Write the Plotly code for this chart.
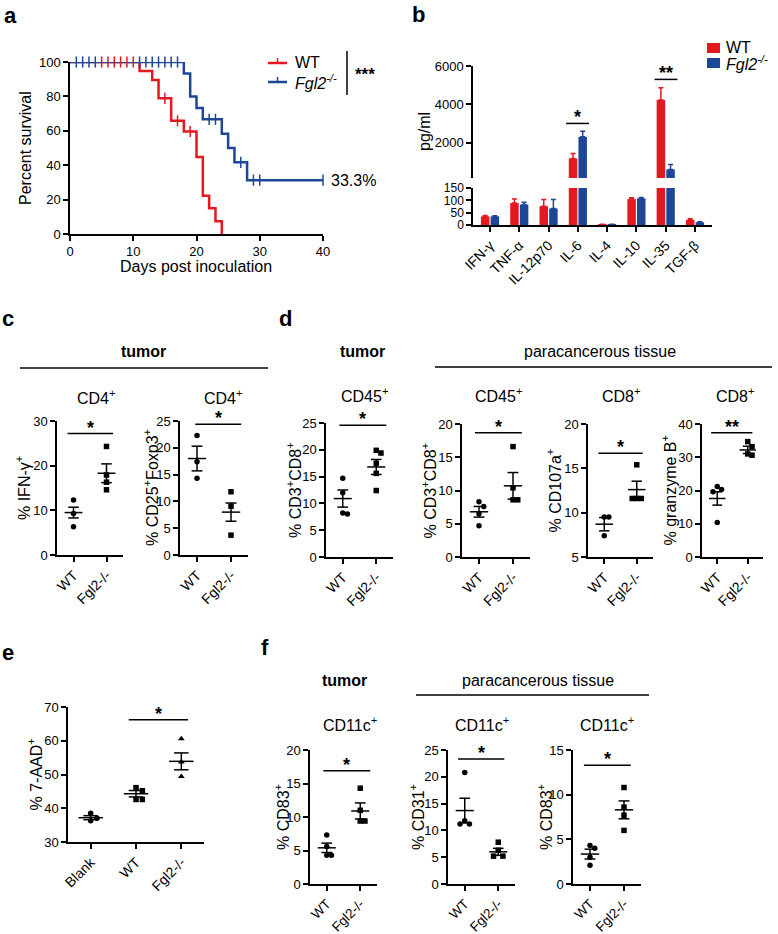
import plotly.graph_objects as go

W, H = 778, 934
RED = '#e3191f'
BLUE = '#1e4696'
FONT = 'Liberation Sans, Arial, sans-serif'

# ---------------- data ----------------
# panel a: Kaplan-Meier survival
a_wt_days = [0, 11, 13, 14, 16, 18, 20, 21, 22, 23, 24]
a_wt_surv = [100, 94.7, 89.5, 78.9, 65.8, 59.6, 44.7, 22.3, 14.9, 7.4, 0]
a_ko_days = [0, 18, 19, 20, 21, 24, 25, 26, 28, 40]
a_ko_surv = [100, 93.3, 80.0, 73.3, 66.7, 58.3, 50.0, 41.7, 31.3, 31.3]
a_wt_censor = [5, 6, 7, 8, 9, 10, 15, 17, 19]
a_ko_censor = [1, 2, 3, 4, 11, 12, 13, 14, 15, 16, 17, 22, 23, 27, 29, 30, 40]
a_ko_final_label = '33.3%'

# panel b: cytokines (pg/ml)
b_cytokines = ['IFN-γ', 'TNF-α', 'IL-12p70', 'IL-6', 'IL-4', 'IL-10', 'IL-35', 'TGF-β']
b_wt = [35, 89, 76, 1170, 2, 105, 4230, 21]
b_wt_err = [4, 16, 27, 260, 1, 5, 640, 4]
b_ko = [35, 83, 67, 2300, 2, 108, 600, 11]
b_ko_err = [2, 9, 36, 290, 1, 3, 260, 2]
b_break = 150

# dot plots: WT / Fgl2-/- individual values, mean, SEM
grp2 = ['WT', 'Fgl2-/-']
c1_wt = [12.3, 9.3, 6.3]
c1_ko = [24.3, 17.9, 16.3, 14.6]
c1_mean = [9.5, 18.3]
c1_sem = [1.2, 2.1]

c2_wt = [22.3, 17.4, 14.3]
c2_ko = [11.8, 9.1, 3.7]
c2_mean = [18.0, 8.0]
c2_sem = [2.3, 1.7]

d1_wt = [14.7, 12.0, 8.2, 8.0]
d1_ko = [19.9, 19.4, 17.5, 15.6, 12.4]
d1_mean = [10.9, 16.8]
d1_sem = [1.6, 1.4]

d2_wt = [8.3, 7.6, 6.5, 4.7]
d2_ko = [16.6, 10.4, 8.6, 8.6]
d2_mean = [6.8, 10.7]
d2_sem = [0.8, 2.0]

d3_wt = [9.5, 9.5, 7.4]
d3_ko = [15.4, 11.6, 11.6, 11.6]
d3_mean = [8.7, 12.6]
d3_sem = [0.75, 0.95]

d4_wt = [21.2, 20.3, 19.6, 10.4]
d4_ko = [34.7, 33.2, 31.0, 30.6]
d4_mean = [17.6, 32.2]
d4_sem = [2.0, 1.1]

e_groups = ['Blank', 'WT', 'Fgl2-/-']
e_blank = [38.5, 37.0, 36.3]
e_wt = [46.1, 45.2, 42.6, 42.6]
e_ko = [60.6, 53.7, 49.4]
e_mean = [37.2, 44.3, 53.9]
e_sem = [0.6, 0.95, 2.5]

f1_wt = [7.3, 5.6, 4.3, 4.3]
f1_ko = [14.3, 11.0, 9.4, 9.4]
f1_mean = [5.4, 10.9]
f1_sem = [0.7, 1.2]

f2_wt = [20.8, 11.8, 11.2, 11.2]
f2_ko = [7.8, 6.3, 5.2, 5.2]
f2_mean = [13.7, 6.0]
f2_sem = [2.3, 0.65]

f3_wt = [4.3, 4.0, 3.0, 2.1]
f3_ko = [10.8, 8.6, 7.7, 6.0]
f3_mean = [3.35, 8.3]
f3_sem = [0.55, 1.0]

# ---------------- figure helpers ----------------
fig = go.Figure()
annotations = []
shapes = []
layout = dict(width=W, height=H, margin=dict(l=0, r=0, t=0, b=0, pad=0, autoexpand=False),
              autosize=False,
              plot_bgcolor='white', paper_bgcolor='white', showlegend=False,
              font=dict(family=FONT, size=13, color='black'),
              barmode='group', bargap=0.34, bargroupgap=0.12)
n_axes = [0]


def px(x):
    return x / W


def py(y):
    return 1 - y / H


def axis_style(size=13):
    return dict(showline=True, linecolor='black', linewidth=1.5, ticks='outside',
                ticklen=5, tickwidth=1.5, tickcolor='black', showgrid=False,
                zeroline=False, tickfont=dict(size=size, family=FONT, color='black'),
                fixedrange=True, automargin=False)


def add_axes(box, xr, yr, xtv=None, xtt=None, ytv=None, xangle=0, showx=True, xsize=13,
             ysize=13):
    n_axes[0] += 1
    n = n_axes[0]
    sfx = '' if n == 1 else str(n)
    x0, x1, y0, y1 = box
    xa = axis_style(xsize)
    xa.update(domain=[px(x0), px(x1)], range=xr, anchor='y' + sfx)
    if xtv is not None:
        xa.update(tickmode='array', tickvals=xtv, ticktext=xtt)
    xa['tickangle'] = xangle
    if not showx:
        xa.update(visible=False)
    ya = axis_style(ysize)
    ya.update(domain=[py(y1), py(y0)], range=yr, anchor='x' + sfx)
    if ytv is not None:
        ya.update(tickmode='array', tickvals=ytv)
    layout['xaxis' + sfx] = xa
    layout['yaxis' + sfx] = ya
    return 'x' + sfx, 'y' + sfx


def text(x, y, s, size=16, bold=False, angle=0, xanchor='center', yanchor='middle'):
    if bold:
        s = '<b>' + s + '</b>'
    annotations.append(dict(x=px(x), y=py(y), xref='paper', yref='paper', text=s,
                            showarrow=False, textangle=angle, xanchor=xanchor,
                            yanchor=yanchor, font=dict(size=size, family=FONT, color='black')))


def hline(x0, x1, y, color='black', width=1.5):
    shapes.append(dict(type='line', xref='paper', yref='paper', x0=px(x0), x1=px(x1),
                       y0=py(y), y1=py(y), line=dict(color=color, width=width)))


def vline(x, y0, y1, color='black', width=1.5):
    shapes.append(dict(type='line', xref='paper', yref='paper', x0=px(x), x1=px(x),
                       y0=py(y0), y1=py(y1), line=dict(color=color, width=width)))


def swarm(vals, tol):
    pattern = [0, 0.14, -0.14, 0.28, -0.28, 0.42, -0.42]
    placed, offs = [], []
    for v in vals:
        used = {o for (pv, o) in placed if abs(pv - v) < tol}
        o = next(p for p in pattern if p not in used)
        placed.append((v, o))
        offs.append(o)
    return offs


def sig(xr, yr, x1, x2, y, stars):
    fig.add_trace(go.Scatter(x=[x1, x2], y=[y, y], mode='lines', xaxis=xr, yaxis=yr,
                             line=dict(color='black', width=1.5), hoverinfo='skip'))
    annotations.append(dict(x=(x1 + x2) / 2, y=y, xref=xr, yref=yr, text='<b>' + stars + '</b>',
                            showarrow=False, yanchor='bottom', yshift=-6,
                            font=dict(size=18, family=FONT, color='black')))


def dot_panel(box, yr, ytv, labels, groups, means, sems, symbols, sigspec, title, ytitle, ytitle_x,
              title_y, xsize=14):
    n = len(groups)
    xr_, yr_ = add_axes(box, [-0.5, n - 0.5], yr, xtv=list(range(n)), xtt=labels,
                        ytv=ytv, xangle=-45, xsize=xsize)
    span = yr[1] - yr[0]
    for i, (vals, sym) in enumerate(zip(groups, symbols)):
        offs = swarm(vals, 0.045 * span)
        fig.add_trace(go.Scatter(x=[i + o for o in offs], y=vals, mode='markers',
                                 xaxis=xr_, yaxis=yr_,
                                 marker=dict(symbol=sym, size=5.5 if sym != 'triangle-up' else 6,
                                             color='black', line=dict(width=0)),
                                 cliponaxis=False, hoverinfo='skip'))
        m, s = means[i], sems[i]
        xs = [i - 0.27, i + 0.27, None, i, i, None, i - 0.16, i + 0.16, None, i - 0.16, i + 0.16]
        ys = [m, m, None, m - s, m + s, None, m + s, m + s, None, m - s, m - s]
        fig.add_trace(go.Scatter(x=xs, y=ys, mode='lines', xaxis=xr_, yaxis=yr_,
                                 line=dict(color='black', width=1.5), hoverinfo='skip'))
    sig(xr_, yr_, *sigspec)
    x0, x1, y0, y1 = box
    if title:
        text(title[1], title_y, title[0], size=16)
    text(ytitle_x, (y0 + y1) / 2, ytitle, size=16, angle=-90)


# ---------------- panel a ----------------
xa_, ya_ = add_axes((70, 323, 62, 234), [0, 40], [0, 100],
                    xtv=[0, 10, 20, 30, 40], ytv=[0, 20, 40, 60, 80, 100])


def surv_at(days, surv, t):
    v = surv[0]
    for d, s in zip(days, surv):
        if d <= t:
            v = s
    return v


fig.add_trace(go.Scatter(x=a_wt_days, y=a_wt_surv, mode='lines', line_shape='hv',
                         line=dict(color=RED, width=2.5), xaxis=xa_, yaxis=ya_))
fig.add_trace(go.Scatter(x=a_ko_days, y=a_ko_surv, mode='lines', line_shape='hv',
                         line=dict(color=BLUE, width=2.5), xaxis=xa_, yaxis=ya_))
for days, surv, cens, col in [(a_ko_days, a_ko_surv, a_ko_censor, BLUE),
                              (a_wt_days, a_wt_surv, a_wt_censor, RED)]:
    ys = [surv_at(days, surv, t) for t in cens]
    fig.add_trace(go.Scatter(x=cens, y=ys, mode='markers', xaxis=xa_, yaxis=ya_, cliponaxis=False,
                             marker=dict(symbol='line-ns', size=8, line=dict(color=col, width=1.5))))
annotations.append(dict(x=40, y=a_ko_surv[-1], xref=xa_, yref=ya_, text=a_ko_final_label,
                        showarrow=False, xanchor='left', xshift=6,
                        font=dict(size=16, family=FONT, color='black')))
text(196, 267, 'Days post inoculation', size=16)
text(26, 148, 'Percent survival', size=16, angle=-90)
# legend a
for yy, col, lab in [(63, RED, 'WT'), (82, BLUE, '<i>Fgl2<sup>-/-</sup></i>')]:
    hline(268, 287, yy, color=col, width=2.5)
    vline(277.5, yy, yy - 5, color=col, width=1.5)
    text(293, yy, lab, size=16, xanchor='left')
vline(347, 51, 95)
text(353, 75, '<b>***</b>', size=17, xanchor='left')
text(10, 15, 'a', size=22, bold=True)

# ---------------- panel b ----------------
bx0, bx1 = 473, 712
ncat = len(b_cytokines)
brange = [-0.58, ncat - 0.42]
xbu, ybu = add_axes((bx0, bx1, 66, 178), brange, [b_break, 6000], ytv=[2000, 4000, 6000],
                    showx=False)
xbl, ybl = add_axes((bx0, bx1, 188, 225), brange, [0, b_break],
                    xtv=list(range(ncat)), xtt=b_cytokines, ytv=[0, 50, 100, 150],
                    xangle=-45, xsize=14, ysize=12)
for vals, err, col in [(b_wt, b_wt_err, RED), (b_ko, b_ko_err, BLUE)]:
    upper = [v if v > b_break else None for v in vals]
    up_err = [e if v > b_break else 0 for v, e in zip(vals, err)]
    low_err = [e if v <= b_break else 0 for v, e in zip(vals, err)]
    fig.add_trace(go.Bar(x=list(range(ncat)), y=upper, xaxis=xbu, yaxis=ybu,
                         marker=dict(color=col, line=dict(width=0)),
                         error_y=dict(type='data', symmetric=False, array=up_err,
                                      arrayminus=[0] * ncat, color=col, thickness=1.5, width=2.5)))
    fig.add_trace(go.Bar(x=list(range(ncat)), y=vals, xaxis=xbl, yaxis=ybl,
                         marker=dict(color=col, line=dict(width=0)),
                         error_y=dict(type='data', symmetric=False, array=low_err,
                                      arrayminus=[0] * ncat, color=col, thickness=1.5, width=2.5)))
sig(xbu, ybu, 3 - 0.4, 3 + 0.38, 3000, '*')
sig(xbu, ybu, 6 - 0.38, 6 + 0.4, 5300, '**')
text(425, 132, 'pg/ml', size=16, angle=-90)
for yy, col, lab in [(48, RED, 'WT'), (63, BLUE, '<i>Fgl2<sup>-/-</sup></i>')]:
    shapes.append(dict(type='rect', xref='paper', yref='paper', x0=px(707), x1=px(720),
                       y0=py(yy - 5), y1=py(yy + 5), fillcolor=col, line=dict(width=0)))
    text(724, yy, lab, size=16, xanchor='left')
text(418, 14, 'b', size=22, bold=True)

# ---------------- panel c ----------------
text(8, 318, 'c', size=22, bold=True)
text(143, 352, 'tumor', size=16, bold=True)
hline(20, 268, 368)
dot_panel((57, 123, 421, 555), [0, 30], [0, 10, 20, 30], grp2, [c1_wt, c1_ko], c1_mean, c1_sem,
          ['circle', 'square'], (-0.18, 1.2, 27.2, '*'), ('CD4<sup>+</sup>', 96),
          '% IFN-γ<sup>+</sup>', 23, 397)
dot_panel((180, 248, 421, 555), [0, 25], [0, 5, 10, 15, 20, 25], grp2, [c2_wt, c2_ko], c2_mean,
          c2_sem, ['circle', 'square'], (-0.05, 1.3, 24.4, '*'), ('CD4<sup>+</sup>', 223),
          '% CD25<sup>+</sup>Foxp3<sup>+</sup>', 151, 397)

# ---------------- panel d ----------------
text(285, 318, 'd', size=22, bold=True)
text(362, 352, 'tumor', size=16, bold=True)
text(600, 352, 'paracancerous tissue', size=16)
hline(435, 772, 367)
dot_panel((326, 393, 423, 557), [0, 25], [0, 5, 10, 15, 20, 25], grp2, [d1_wt, d1_ko], d1_mean,
          d1_sem, ['circle', 'square'], (-0.1, 1.3, 24.6, '*'), ('CD45<sup>+</sup>', 364),
          '% CD3<sup>+</sup>CD8<sup>+</sup>', 294, 395)
dot_panel((462, 530, 424, 557), [0, 20], [0, 5, 10, 15, 20], grp2, [d2_wt, d2_ko], d2_mean,
          d2_sem, ['circle', 'square'], (-0.12, 1.26, 18.7, '*'), ('CD45<sup>+</sup>', 498),
          '% CD3<sup>+</sup>CD8<sup>+</sup>', 430, 395)
dot_panel((588, 653, 424, 557), [5, 20], [5, 10, 15, 20], grp2, [d3_wt, d3_ko], d3_mean,
          d3_sem, ['circle', 'square'], (-0.18, 1.18, 16.7, '*'), ('CD8<sup>+</sup>', 621),
          '% CD107a<sup>+</sup>', 555, 395)
dot_panel((702, 763, 424, 557), [0, 40], [0, 10, 20, 30, 40], grp2, [d4_wt, d4_ko], d4_mean,
          d4_sem, ['circle', 'square'], (-0.2, 1.15, 37.4, '**'), ('CD8<sup>+</sup>', 735),
          '% granzyme B<sup>+</sup>', 670, 395)

# ---------------- panel e ----------------
text(8, 652, 'e', size=22, bold=True)
dot_panel((68, 204, 707, 842), [30, 70], [30, 40, 50, 60, 70], e_groups, [e_blank, e_wt, e_ko],
          e_mean, e_sem, ['circle', 'square', 'triangle-up'], (0.84, 2.15, 66.2, '*'), None,
          '% 7-AAD<sup>+</sup>', 35, 0)

# ---------------- panel f ----------------
text(265, 647, 'f', size=22, bold=True)
text(344, 680, 'tumor', size=16, bold=True)
text(538, 680, 'paracancerous tissue', size=16)
hline(416, 649, 695)
dot_panel((310, 377, 750, 884), [0, 20], [0, 5, 10, 15, 20], grp2, [f1_wt, f1_ko], f1_mean,
          f1_sem, ['circle', 'square'], (-0.1, 1.3, 16.9, '*'), ('CD11c<sup>+</sup>', 350),
          '% CD83<sup>+</sup>', 282, 724, xsize=13.5)
dot_panel((448, 515, 750, 884), [0, 25], [0, 5, 10, 15, 20, 25], grp2, [f2_wt, f2_ko], f2_mean,
          f2_sem, ['circle', 'square'], (-0.2, 1.18, 23.3, '*'), ('CD11c<sup>+</sup>', 482),
          '% CD31<sup>+</sup>', 417, 724, xsize=13.5)
dot_panel((573, 641, 750, 884), [0, 15], [0, 5, 10, 15], grp2, [f3_wt, f3_ko], f3_mean,
          f3_sem, ['circle', 'square'], (-0.18, 1.2, 13.3, '*'), ('CD11c<sup>+</sup>', 607),
          '% CD83<sup>+</sup>', 545, 724, xsize=13.5)

layout['annotations'] = annotations
layout['shapes'] = shapes
fig.update_layout(**layout)
fig.update_traces(hoverinfo='skip')
fig.write_html('out.html', config={'responsive': False, 'displayModeBar': False},
               post_script="document.body.style.margin='0';document.body.style.padding='0';"
                           "document.body.style.overflow='hidden';")
